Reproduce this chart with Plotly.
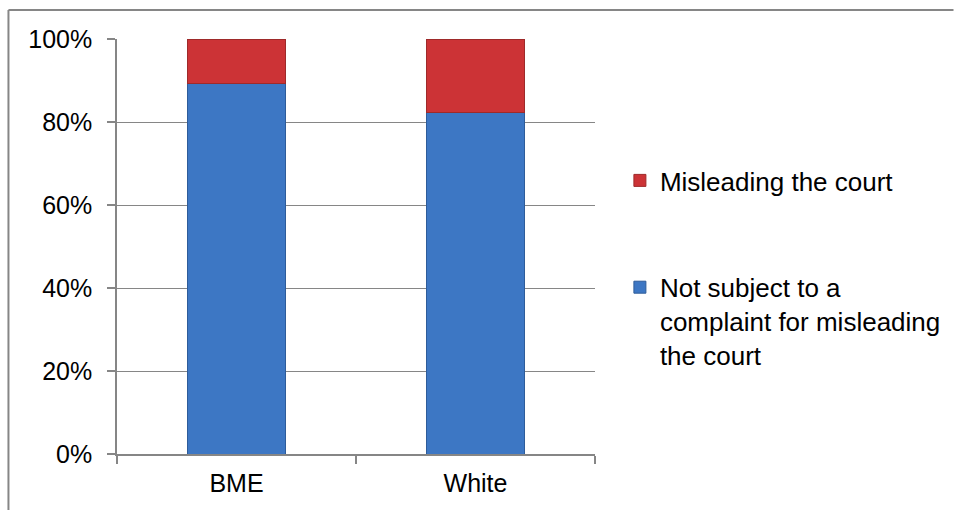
import plotly.graph_objects as go

# Share of lawyers by ethnicity, split by misleading-the-court complaints
groups = ["BME", "White"]
not_subject = [0.892, 0.824]
misleading = [0.108, 0.176]

FONT = "Liberation Sans, Arial, sans-serif"
GREY = "#868686"

W, H = 958, 511
L, R, T, B = 117, 361, 39, 57
pw, ph = W - L - R, H - T - B

fig = go.Figure()
fig.add_trace(go.Bar(
    x=groups, y=not_subject,
    name="Not subject to a<br>complaint for misleading<br>the court",
    marker=dict(color="#3D77C4", line=dict(color="#2E5C9A", width=1)),
    legendgroup="b", legendrank=2,
))
fig.add_trace(go.Bar(
    x=groups, y=misleading,
    name="Misleading the court",
    marker=dict(color="#CC3336", line=dict(color="#9E2A2A", width=1)),
    legendgroup="a", legendrank=1,
))

# outer chart frame: top and left edges
fx0 = (8 - L) / pw
fy1 = 1 + (T - 10) / ph
fig.add_shape(type="line", xref="paper", yref="paper",
              x0=fx0, x1=(W - 1 - L) / pw, y0=fy1, y1=fy1,
              line=dict(color=GREY, width=2))
fig.add_shape(type="line", xref="paper", yref="paper",
              x0=fx0, x1=fx0, y0=fy1, y1=-(B - 1) / ph,
              line=dict(color=GREY, width=2))

fig.update_layout(
    width=W, height=H,
    margin=dict(l=L, r=R, t=T, b=B),
    barmode="stack",
    bargap=0.59,
    plot_bgcolor="white",
    paper_bgcolor="white",
    font=dict(family=FONT, size=25, color="black"),
    showlegend=True,
    legend=dict(
        x=(622 - L) / pw, xanchor="left",
        y=(H - B - 157) / ph, yanchor="top",
        traceorder="grouped",
        tracegroupgap=70,
        valign="top",
        font=dict(size=26, family=FONT, color="black"),
        bgcolor="rgba(0,0,0,0)",
    ),
)
fig.update_yaxes(
    range=[0, 1], dtick=0.2, tickformat=".0%",
    showgrid=True, gridcolor=GREY, gridwidth=1,
    showline=True, linecolor=GREY, linewidth=1.5,
    ticks="outside", ticklen=8, tickcolor=GREY, tickwidth=1.5,
    ticklabelstandoff=10,
    zeroline=False,
)
fig.update_xaxes(
    showline=True, linecolor=GREY, linewidth=1.5,
    ticks="outside", ticklen=8, tickcolor=GREY, tickwidth=1.5,
    tickson="boundaries",
    ticklabelstandoff=6,
)

fig.write_html("out.html")
